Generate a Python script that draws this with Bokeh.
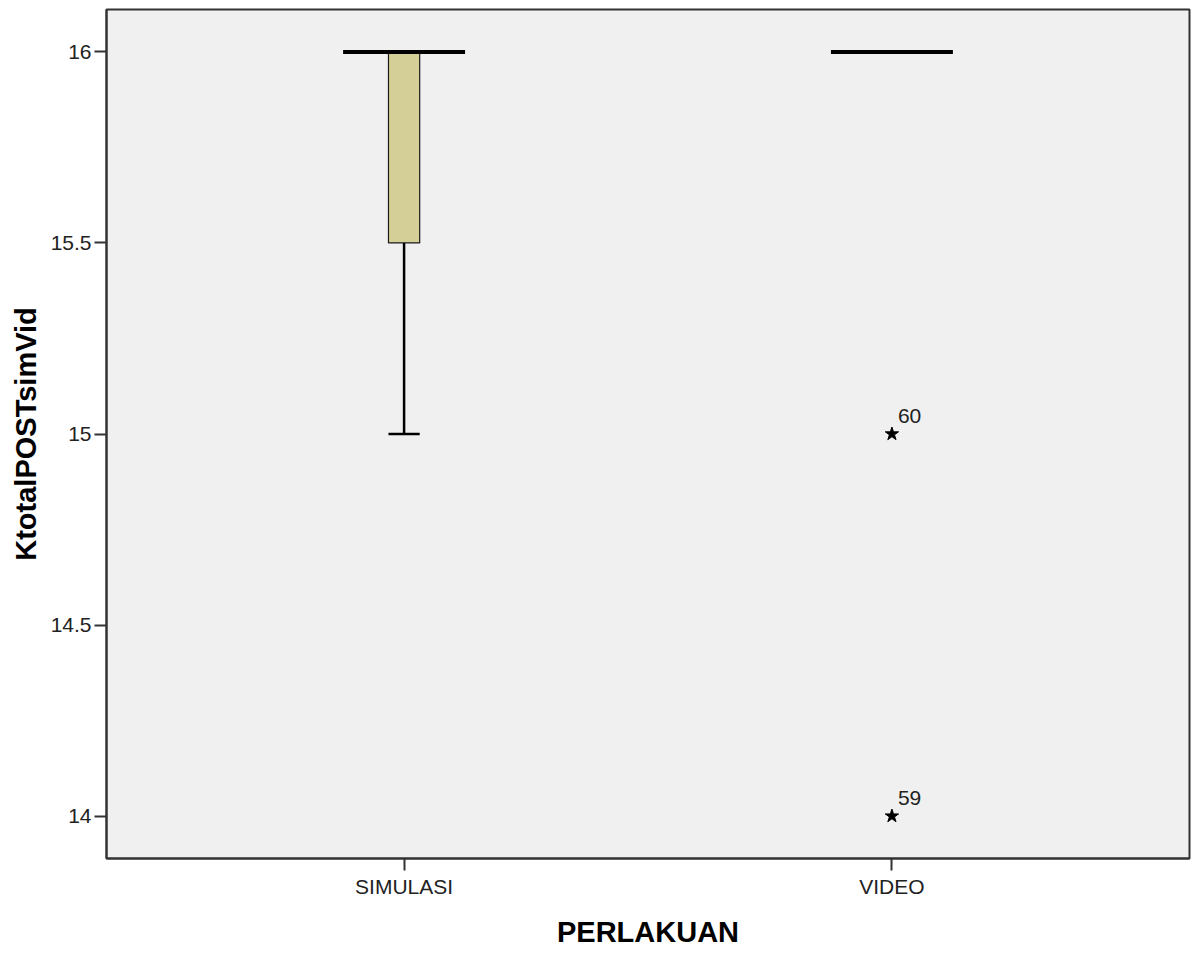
from bokeh.plotting import figure
from bokeh.models import Range1d, FixedTicker, ColumnDataSource, LabelSet
from bokeh.core.properties import value
from bokeh.embed import file_html
from bokeh.resources import INLINE

# ---- data ----
groups = ["SIMULASI", "VIDEO"]
q1 = [15.5, 16.0]
median = [16.0, 16.0]
q3 = [16.0, 16.0]
whisker_low = [15.0, 16.0]
whisker_high = [16.0, 16.0]
outlier_group = ["VIDEO", "VIDEO"]
outlier_value = [15.0, 14.0]
outlier_case = ["60", "59"]
y_ticks = [14, 14.5, 15, 15.5, 16]
y_tick_labels = ["14", "14.5", "15", "15.5", "16"]

xpos = {g: i + 1 for i, g in enumerate(groups)}
xs = [xpos[g] for g in groups]
box_w = 0.064
med_w = 0.25

p = figure(width=1192, height=951, output_backend="svg", toolbar_location=None,
           x_range=Range1d(0.39, 2.61), y_range=Range1d(13.889, 16.111),
           min_border_left=106, min_border_right=3, min_border_top=9, min_border_bottom=93)

p.background_fill_color = "#F0F0F0"
p.border_fill_color = "white"
p.outline_line_color = "#333333"
p.outline_line_width = 2
p.xgrid.visible = False
p.ygrid.visible = False

# boxes (only non-degenerate)
bsrc = ColumnDataSource(dict(x=[x for x, a, b in zip(xs, q1, q3) if b > a],
                             top=[b for a, b in zip(q1, q3) if b > a],
                             bottom=[a for a, b in zip(q1, q3) if b > a]))
p.vbar(x="x", width=box_w, top="top", bottom="bottom", source=bsrc,
       fill_color="#D3CF97", line_color="#1a1a1a", line_width=1.2)

# whiskers
for x, a, b, lo, hi in zip(xs, q1, q3, whisker_low, whisker_high):
    if lo < a:
        p.segment(x0=[x], y0=[a], x1=[x], y1=[lo], line_color="black", line_width=2.5)
        p.segment(x0=[x - box_w / 2], y0=[lo], x1=[x + box_w / 2], y1=[lo],
                  line_color="black", line_width=2.5)
    if hi > b:
        p.segment(x0=[x], y0=[b], x1=[x], y1=[hi], line_color="black", line_width=2.5)
        p.segment(x0=[x - box_w / 2], y0=[hi], x1=[x + box_w / 2], y1=[hi],
                  line_color="black", line_width=2.5)

# medians
p.segment(x0=[x - med_w / 2 for x in xs], y0=median, x1=[x + med_w / 2 for x in xs], y1=median,
          line_color="black", line_width=4)

# outliers
osrc = ColumnDataSource(dict(x=[xpos[g] for g in outlier_group], y=outlier_value, lab=outlier_case))
p.scatter(x="x", y="y", source=osrc, marker="star", size=14, fill_color="black", line_color="black")
p.add_layout(LabelSet(x="x", y="y", text="lab", source=osrc, x_offset=6, y_offset=11,
                      text_font=value("Liberation Sans"), text_font_size="21px",
                      text_color="#222222"))

# axes
p.xaxis.ticker = FixedTicker(ticks=xs)
p.xaxis.major_label_overrides = {x: g for x, g in zip(xs, groups)}
p.yaxis.ticker = FixedTicker(ticks=y_ticks)
p.yaxis.major_label_overrides = {t: l for t, l in zip(y_ticks, y_tick_labels)}

for ax in (p.xaxis[0], p.yaxis[0]):
    ax.axis_line_color = "#333333"
    ax.axis_line_width = 2
    ax.major_tick_line_color = "#333333"
    ax.major_tick_line_width = 2
    ax.major_tick_out = 12
    ax.major_tick_in = 0
    ax.minor_tick_line_color = None
    ax.major_label_text_font = "Liberation Sans"
    ax.major_label_text_font_size = "21px"
    ax.major_label_text_color = "#222222"
    ax.axis_label_text_font = "Liberation Sans"
    ax.axis_label_text_font_style = "bold"
    ax.axis_label_text_font_size = "29px"
    ax.axis_label_text_color = "black"

p.xaxis.axis_label = "PERLAKUAN"
p.yaxis.axis_label = "KtotalPOSTsimVid"
p.xaxis.major_label_standoff = 4
p.yaxis.major_label_standoff = 3
p.xaxis.axis_label_standoff = 15
p.yaxis.axis_label_standoff = 6

open("out.html", "w").write(file_html(p, INLINE))
